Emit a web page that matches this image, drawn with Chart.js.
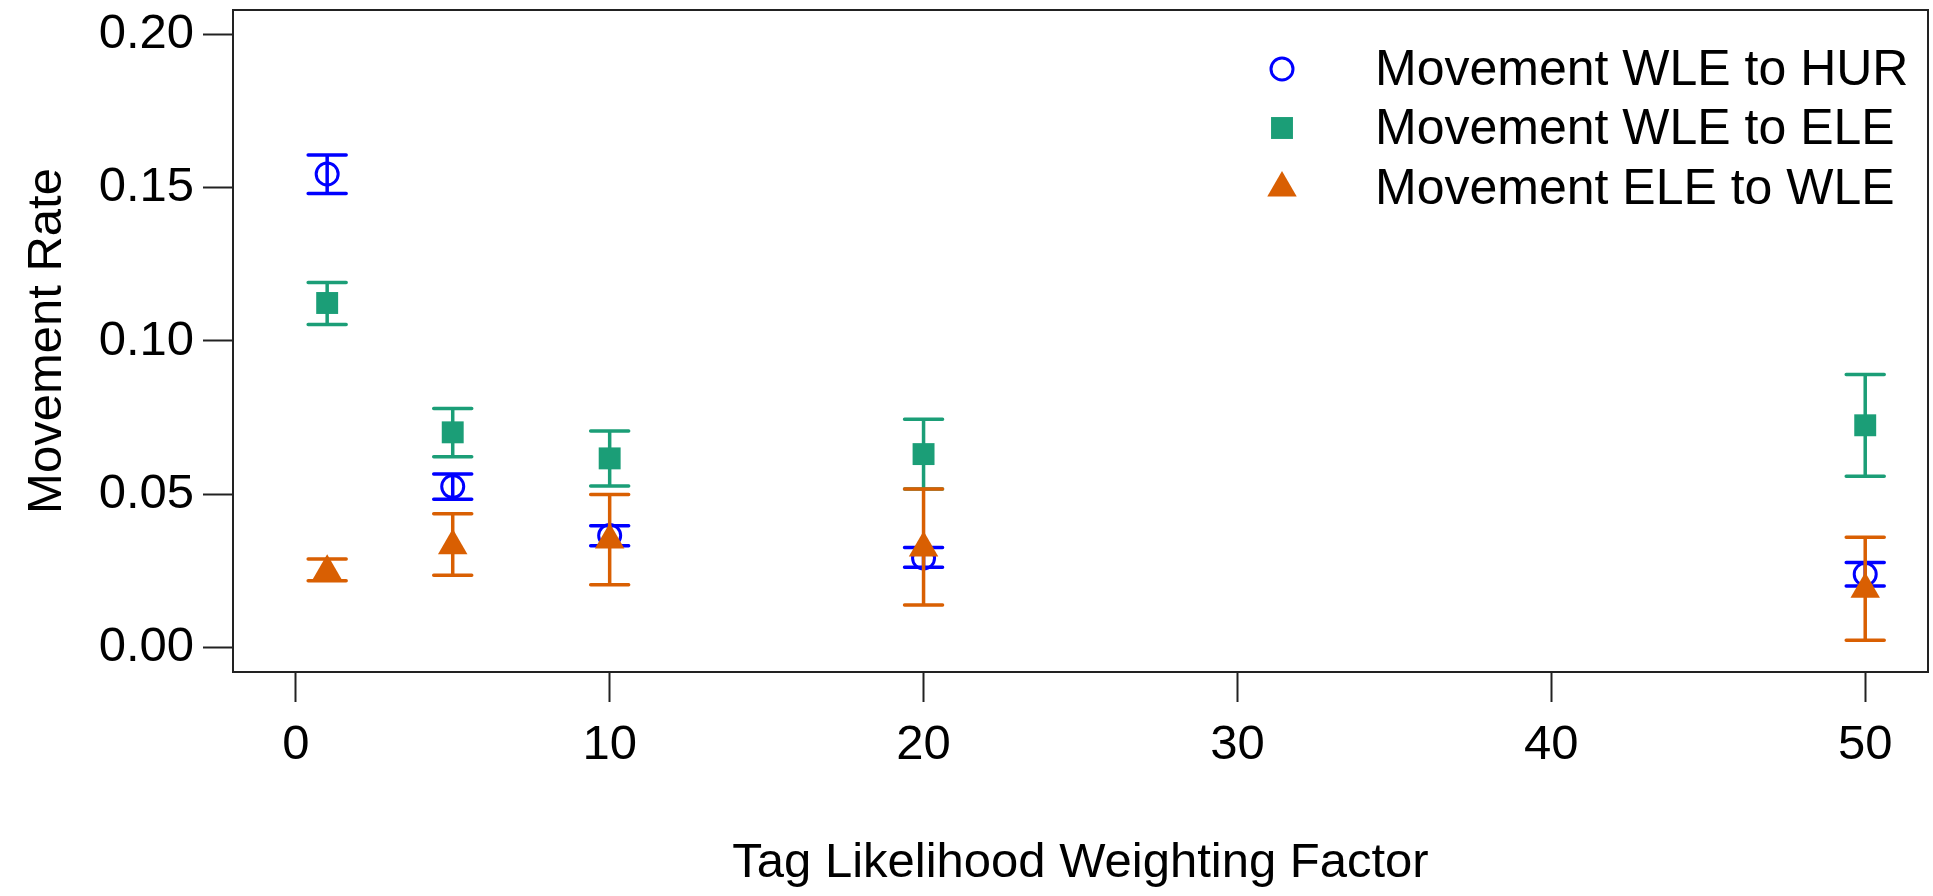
<!DOCTYPE html>
<html>
<head>
<meta charset="utf-8">
<script src="https://cdn.jsdelivr.net/npm/chart.js@4"></script>
<style>
  html, body { margin: 0; padding: 0; background: #fff; overflow: hidden; }
  #wrap { width: 1933px; height: 896px; }
  canvas { display: block; }
</style>
</head>
<body>
<div id="wrap"><canvas id="chart" width="1933" height="896"></canvas></div>
<script>
const weights = [1, 5, 10, 20, 50];
const seriesNames = ['Movement WLE to HUR', 'Movement WLE to ELE', 'Movement ELE to WLE'];

const wleHur = [0.1545, 0.0525, 0.0365, 0.0292, 0.0239];
const wleHurLow = [0.1481, 0.0484, 0.0332, 0.0262, 0.0201];
const wleHurHigh = [0.1607, 0.0566, 0.0397, 0.0326, 0.0277];

const wleEle = [0.1124, 0.0702, 0.0617, 0.0631, 0.0725];
const wleEleLow = [0.1054, 0.0622, 0.0527, 0.0517, 0.0559];
const wleEleHigh = [0.1191, 0.0780, 0.0706, 0.0745, 0.0891];

const eleWle = [0.0249, 0.0332, 0.0351, 0.0325, 0.0190];
const eleWleLow = [0.0218, 0.0236, 0.0205, 0.0139, 0.0024];
const eleWleHigh = [0.0289, 0.0436, 0.0499, 0.0517, 0.0360];

const yTicks = [0, 0.05, 0.10, 0.15, 0.20];
const xTicks = [0, 10, 20, 30, 40, 50];

const BLUE = '#0000FF', GREEN = '#1B9E77', ORANGE = '#D95F02';
const FONT = 'Arial, "Liberation Sans", sans-serif';

const toPoints = vals => weights.map((w, i) => ({ x: w, y: vals[i] }));
const errLow = [wleHurLow, wleEleLow, eleWleLow];
const errHigh = [wleHurHigh, wleEleHigh, eleWleHigh];

// error bars for one dataset, drawn just before its markers
const errorBars = {
  id: 'errorBars',
  beforeDatasetDraw(chart, args) {
    const i = args.index;
    const ds = chart.data.datasets[i];
    const x = chart.scales.x, y = chart.scales.y;
    const ctx = chart.ctx;
    ctx.save();
    ctx.strokeStyle = ds.barColor;
    ctx.lineWidth = 3.5;
    ctx.lineCap = 'round';
    weights.forEach((w, j) => {
      const px = x.getPixelForValue(w);
      const lo = y.getPixelForValue(errLow[i][j]);
      const hi = y.getPixelForValue(errHigh[i][j]);
      ctx.beginPath();
      ctx.moveTo(px, lo); ctx.lineTo(px, hi);
      ctx.moveTo(px - 19, lo); ctx.lineTo(px + 19, lo);
      ctx.moveTo(px - 19, hi); ctx.lineTo(px + 19, hi);
      ctx.stroke();
    });
    ctx.restore();
  }
};

// full box around the plot plus the legend
const frameAndLegend = {
  id: 'frameAndLegend',
  afterDraw(chart) {
    const ctx = chart.ctx;
    const a = chart.chartArea;
    ctx.save();
    ctx.strokeStyle = '#222';
    ctx.lineWidth = 2;
    ctx.strokeRect(a.left, a.top, a.right - a.left, a.bottom - a.top);

    const rows = [69, 128, 188];
    ctx.font = '50px ' + FONT;
    ctx.textBaseline = 'middle';
    ctx.textAlign = 'left';
    chart.data.datasets.forEach((ds, i) => {
      ctx.fillStyle = ds.backgroundColor;
      ctx.strokeStyle = ds.borderColor;
      ctx.lineWidth = ds.borderWidth;
      Chart.helpers.drawPoint(ctx, {
        pointStyle: ds.pointStyle, radius: ds.pointRadius, borderWidth: ds.borderWidth
      }, 1282, rows[i]);
      ctx.fillStyle = '#000';
      ctx.fillText(seriesNames[i], 1375, rows[i] + 2);
    });
    ctx.restore();
  }
};

new Chart(document.getElementById('chart'), {
  type: 'scatter',
  data: {
    datasets: [
      {
        label: seriesNames[0], data: toPoints(wleHur), order: 2,
        pointStyle: 'circle', pointRadius: 11, borderWidth: 3,
        borderColor: BLUE, backgroundColor: 'rgba(0,0,0,0)', barColor: BLUE
      },
      {
        label: seriesNames[1], data: toPoints(wleEle), order: 1,
        pointStyle: 'rect', pointRadius: 15.5, borderWidth: 0,
        borderColor: GREEN, backgroundColor: GREEN, barColor: GREEN
      },
      {
        label: seriesNames[2], data: toPoints(eleWle), order: 0,
        pointStyle: 'triangle', pointRadius: 17, borderWidth: 0,
        borderColor: ORANGE, backgroundColor: ORANGE, barColor: ORANGE
      }
    ]
  },
  options: {
    responsive: false,
    animation: false,
    events: [],
    layout: { autoPadding: false, padding: { top: 10, right: 5, left: 0, bottom: 0 } },
    plugins: { legend: { display: false }, tooltip: { enabled: false } },
    scales: {
      x: {
        type: 'linear', min: -2, max: 52,
        afterFit: s => { s.height = 224; s.paddingLeft = 0; s.paddingRight = 0; },
        afterBuildTicks: s => { s.ticks = xTicks.map(v => ({ value: v })); },
        grid: { drawOnChartArea: false, drawTicks: true, tickLength: 30, tickColor: '#222', tickWidth: 2 },
        border: { display: true, color: '#222', width: 2 },
        ticks: { color: '#000', font: { size: 49, family: FONT }, padding: 14, maxRotation: 0 },
        title: {
          display: true, text: 'Tag Likelihood Weighting Factor', color: '#000',
          font: { size: 49, family: FONT }, padding: { top: 0, bottom: 3 }
        }
      },
      y: {
        type: 'linear', min: -0.008, max: 0.208,
        afterFit: s => { s.width = 233; s.paddingTop = 0; s.paddingBottom = 0; },
        afterBuildTicks: s => { s.ticks = yTicks.map(v => ({ value: v })); },
        grid: { drawOnChartArea: false, drawTicks: true, tickLength: 30, tickColor: '#222', tickWidth: 2 },
        border: { display: true, color: '#222', width: 2 },
        ticks: {
          color: '#000', font: { size: 49, family: FONT }, padding: 9,
          callback: v => v.toFixed(2)
        },
        title: {
          display: true, text: 'Movement Rate', color: '#000',
          font: { size: 49, family: FONT }, padding: { top: 18, bottom: 0 }
        }
      }
    }
  },
  plugins: [errorBars, frameAndLegend]
});
</script>
</body>
</html>
